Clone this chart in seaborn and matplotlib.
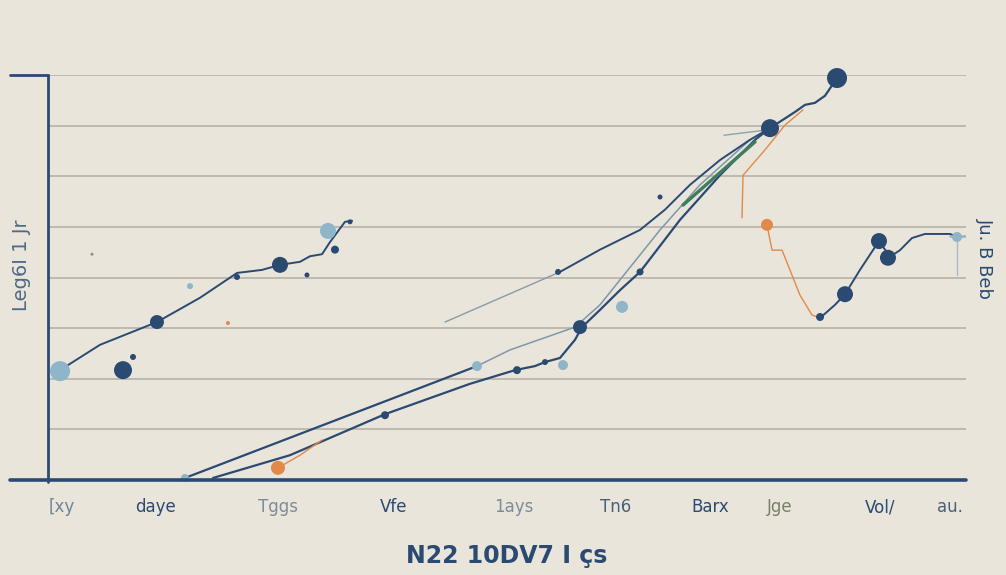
import matplotlib
matplotlib.use("Agg")
import matplotlib.pyplot as plt
import seaborn as sns
import numpy as np

# ---------------- data ----------------
tick_pos = [1.5, 11.7, 25.1, 37.6, 50.7, 61.8, 72.1, 79.7, 90.6, 98.3]
tick_labels = ["[xy", "daye", "Tggs", "Vfe", "1ays", "Tn6", "Barx", "Jge", "Vol/", "au."]
tick_colors = ["#6f8397", "#2b4a72", "#7d8c99", "#2b4a72", "#7d8c99",
               "#4a607a", "#2b4a72", "#7a7f6a", "#2b4a72", "#4a607a"]

a_x = [1.31, 5.66, 11.87, 16.56, 20.59, 23.31, 25.27, 27.45, 28.54, 29.85, 30.72, 32.35, 33.12]
a_y = [2.17, 2.67, 3.12, 3.60, 4.09, 4.15, 4.25, 4.31, 4.42, 4.46, 4.70, 5.10, 5.12]

b1_x = [14.92, 46.73]
b1_y = [0.04, 2.25]

b2_x = [17.97, 26.36, 36.71, 45.97, 50.87, 53.05, 54.14, 55.77, 57.41, 58.17,
        60.13, 62.31, 64.49, 68.85, 73.20, 77.02, 78.65]
b2_y = [0.04, 0.49, 1.30, 1.90, 2.17, 2.25, 2.33, 2.41, 2.77, 3.02,
        3.36, 3.75, 4.11, 5.14, 6.02, 6.72, 6.95]

l1_x = [46.73, 50.33, 57.41, 60.13, 66.67, 71.02, 76.47]
l1_y = [2.25, 2.57, 3.02, 3.46, 4.94, 5.83, 6.72]

l2_x = [43.25, 55.77]
l2_y = [3.12, 4.11]

c_x = [55.77, 60.13, 64.49, 67.21, 69.93, 73.20, 76.47, 78.65]
c_y = [4.11, 4.55, 4.94, 5.34, 5.83, 6.32, 6.72, 6.95]

g_x = [69.17, 77.02]
g_y = [5.43, 6.68]

top_x = [78.65, 81.37, 82.46, 83.55, 84.64, 85.95]
top_y = [6.95, 7.27, 7.41, 7.45, 7.59, 7.94]

gs_x = [73.64, 78.10]
gs_y = [6.81, 6.91]

o1_x = [25.05, 27.45, 29.85]
o1_y = [0.24, 0.49, 0.79]
o2_x = [75.60, 75.71, 78.10, 80.28, 82.24]
o2_y = [5.18, 6.02, 6.52, 7.01, 7.31]
o3_x = [78.32, 78.87, 79.96, 81.92, 83.22, 84.10]
o3_y = [5.04, 4.54, 4.54, 3.65, 3.26, 3.20]

r_x = [84.10, 85.73, 86.82, 88.45, 90.52, 91.72, 92.81, 94.12, 95.53, 98.26, 98.80]
r_y = [3.20, 3.46, 3.67, 4.15, 4.72, 4.41, 4.54, 4.78, 4.86, 4.86, 4.82]

rb_h_x = [98.26, 99.89]
rb_h_y = [4.82, 4.82]
rb_v_x = [99.04, 99.04]
rb_v_y = [4.82, 4.05]

navy_mx = [8.17, 11.87, 25.27, 78.65, 85.95, 57.95, 86.82, 90.52, 91.50,
           9.26, 20.59, 28.21, 32.90, 31.26, 66.67, 55.56, 51.09, 54.14, 36.71, 64.49, 84.10]
navy_my = [2.17, 3.12, 4.25, 6.95, 7.94, 3.02, 3.67, 4.72, 4.39,
           2.43, 4.01, 4.05, 5.10, 4.55, 5.59, 4.11, 2.17, 2.33, 1.28, 4.11, 3.22]
navy_md = [18, 14, 16, 18, 20, 14, 16, 16, 16,
           6, 6, 5, 5, 8, 5, 6, 8, 6, 8, 7, 8]

light_mx = [1.31, 30.50, 46.73, 56.10, 62.53, 15.47, 99.02, 14.92]
light_my = [2.15, 4.92, 2.25, 2.27, 3.42, 3.83, 4.80, 0.04]
light_md = [20, 16, 10, 10, 12, 6, 10, 8]

orange_mx = [25.05, 78.32, 19.60]
orange_my = [0.24, 5.04, 3.10]
orange_md = [14, 12, 4]

gray_mx = [4.79]
gray_my = [4.46]
gray_md = [3]

# ---------------- style ----------------
BG = "#e9e5db"
NAVY = "#2b4a72"
LIGHT = "#8fb5c8"
ORANGE = "#e0894a"
GRID = "#b3ada3"

sns.set_theme(style="white")
plt.rcParams["font.family"] = ["DejaVu Sans"]

fig = plt.figure(figsize=(10.06, 5.75), dpi=100, facecolor=BG)
ax = fig.add_axes([48 / 1006, 1 - 480 / 575, 918 / 1006, 405 / 575])
ax.set_facecolor(BG)
ax.set_xlim(0, 100)
ax.set_ylim(0, 8)

for v in range(1, 9):
    ax.axhline(v, color=GRID, lw=1.1, zorder=0)


def line(x, y, color, lw, alpha=1.0):
    sns.lineplot(x=x, y=y, sort=False, estimator=None, color=color, lw=lw,
                 alpha=alpha, ax=ax, zorder=2)


def dots(x, y, d, color):
    s = [(0.72 * v) ** 2 for v in d]
    sns.scatterplot(x=x, y=y, s=s, color=color, edgecolor="none", ax=ax,
                    zorder=4, legend=False, clip_on=False)


line(l2_x, l2_y, "#8a9aa6", 1.0)
line(l1_x, l1_y, "#7f97a8", 1.1)
line(gs_x, gs_y, "#8fa2ae", 1.0)
line(a_x, a_y, NAVY, 1.4)
line(b1_x, b1_y, NAVY, 1.6)
line(b2_x, b2_y, NAVY, 1.6)
line(c_x, c_y, NAVY, 1.4)
line(g_x, g_y, "#3f7d5e", 2.4)
line(top_x, top_y, NAVY, 1.6)
line(o1_x, o1_y, ORANGE, 1.0)
line(o2_x, o2_y, ORANGE, 1.0)
line(o3_x, o3_y, ORANGE, 1.0)
line(r_x, r_y, NAVY, 1.4)
line(rb_h_x, rb_h_y, LIGHT, 1.8)
line(rb_v_x, rb_v_y, "#a9bcc6", 1.0)

dots(light_mx, light_my, light_md, LIGHT)
dots(navy_mx, navy_my, navy_md, NAVY)
dots(orange_mx, orange_my, orange_md, ORANGE)
dots(gray_mx, gray_my, gray_md, "#8a8f8f")

# spines
for s in ax.spines.values():
    s.set_visible(False)
ax.plot([0, 0], [-0.005, 1], transform=ax.transAxes, color=NAVY, lw=2.0,
        clip_on=False, zorder=5)
ax.plot([-0.041, 0], [1, 1], transform=ax.transAxes, color=NAVY, lw=2.0,
        clip_on=False, zorder=5)
ax.plot([-0.041, 1.0], [0, 0], transform=ax.transAxes, color=NAVY, lw=2.6,
        clip_on=False, zorder=5)

ax.set_xticks(tick_pos)
ax.set_xticklabels(tick_labels, fontsize=12)
for lab, c in zip(ax.get_xticklabels(), tick_colors):
    lab.set_color(c)
ax.tick_params(axis="x", length=0, pad=13)
ax.set_yticks([])
ax.set_xlabel("N22 10DV7 I çs", fontsize=17, fontweight="bold", color=NAVY,
              labelpad=20)
ax.set_ylabel("")

fig.text(22 / 1006, 1 - 265 / 575, "Leg6I 1 Jr", rotation=90, fontsize=14,
         color="#4f6a85", ha="center", va="center")
fig.text(985 / 1006, 1 - 258 / 575, "Ju. B Beb", rotation=270, fontsize=13,
         color=NAVY, ha="center", va="center")

fig.savefig("out.png", dpi=100, facecolor=BG)
